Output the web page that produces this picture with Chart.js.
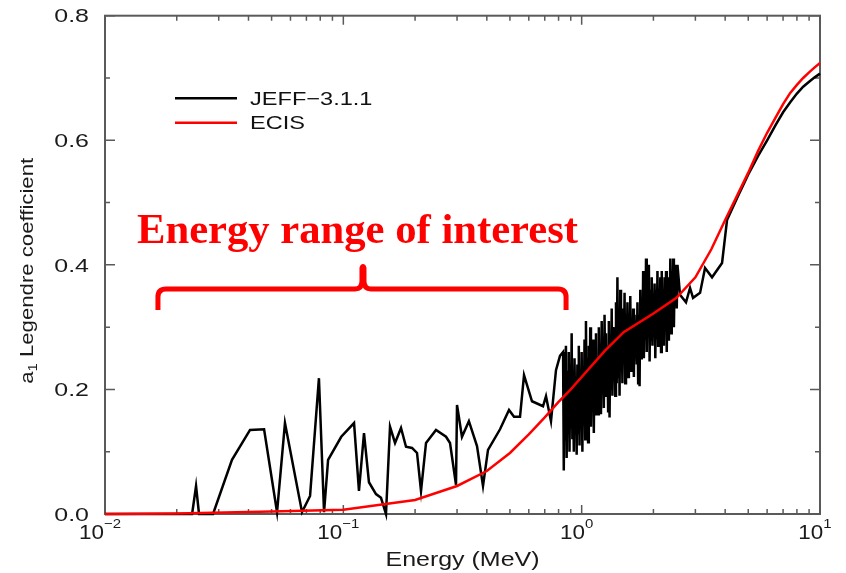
<!DOCTYPE html>
<html><head><meta charset="utf-8">
<style>html,body{margin:0;padding:0;background:#fff;}canvas{display:block;}</style>
<script src="https://cdn.jsdelivr.net/npm/chart.js@4.4.1/dist/chart.umd.min.js"></script>
</head><body>
<canvas id="c" width="846" height="573"></canvas>
<script>
// ---------- data ----------
const jeffEnergy = [
 0.01, 0.0232, 0.0241, 0.0248, 0.0284, 0.0341, 0.0406, 0.0465, 0.0527, 0.0569,
 0.0671, 0.0725, 0.0790, 0.0830, 0.0863, 0.0980, 0.1109, 0.1163, 0.1221, 0.1281,
 0.1371, 0.1439, 0.1510, 0.1570, 0.1648, 0.1746, 0.1832, 0.1942, 0.2038, 0.2118,
 0.2223, 0.2448, 0.2697, 0.2803, 0.2970, 0.2999, 0.3146, 0.3364, 0.3638, 0.3855,
 0.4046, 0.4544, 0.4956, 0.5202, 0.5512, 0.5730, 0.6188, 0.6883, 0.7085, 0.7435,
 0.7803, 0.8110,
 0.8356, 0.8414, 0.8472, 0.8531, 0.8590, 0.8650, 0.8710, 0.8770, 0.8831, 0.8892,
 0.8954, 0.9016, 0.9078, 0.9141, 0.9204, 0.9268, 0.9333, 0.9397, 0.9462, 0.9528,
 0.9594, 0.9660, 0.9727, 0.9795, 0.9863, 0.9931, 1.0000, 1.0069, 1.0139, 1.0209,
 1.0280, 1.0351, 1.0423, 1.0495, 1.0568, 1.0641, 1.0715, 1.0789, 1.0864, 1.0939,
 1.1015, 1.1091, 1.1169, 1.1246, 1.1324, 1.1402, 1.1482, 1.1561, 1.1641, 1.1722,
 1.1803, 1.1885, 1.1967, 1.2050, 1.2134, 1.2218, 1.2303, 1.2388, 1.2474, 1.2560,
 1.2647, 1.2735, 1.2823, 1.2912, 1.3002, 1.3092, 1.3183, 1.3274, 1.3366, 1.3459,
 1.3552, 1.3646, 1.3740, 1.3836, 1.3932, 1.4028, 1.4125, 1.4223, 1.4322, 1.4421,
 1.4521, 1.4622, 1.4723, 1.4825, 1.4928, 1.5031, 1.5136, 1.5241, 1.5346, 1.5453,
 1.5560, 1.5668, 1.5776, 1.5885, 1.5996, 1.6107, 1.6218, 1.6331, 1.6444, 1.6558,
 1.6672, 1.6788, 1.6904, 1.7021, 1.7140, 1.7258, 1.7378, 1.7498, 1.7620, 1.7742,
 1.7865, 1.7989, 1.8113, 1.8239, 1.8365, 1.8492, 1.8621, 1.8750, 1.8880, 1.9011,
 1.9143, 1.9275, 1.9409, 1.9543, 1.9679, 1.9815, 1.9953, 2.0091, 2.0230, 2.0370,
 2.0512, 2.0654, 2.0797, 2.0941, 2.1086, 2.1232, 2.1380, 2.1528, 2.1677, 2.1827,
 2.1979, 2.2131, 2.2284, 2.2438, 2.2594, 2.2750, 2.2909, 2.3067, 2.3227, 2.3388,
 2.3550, 2.3713, 2.3878, 2.4043, 2.4210, 2.4378, 2.4547, 2.4717, 2.4889, 2.5061,
 2.5235,
 2.586, 2.740, 2.849, 2.933, 3.139, 3.293, 3.524, 3.882, 4.073, 4.5,
 5.0, 5.5, 6.0, 6.5, 7.0, 7.5, 8.0, 8.5, 9.0, 9.5, 10.0
];
const jeffA1 = [
 0, 0, 0.045, 0, 0, 0.087, 0.135, 0.136, 0.003, 0.146,
 0.003, 0.029, 0.218, 0.003, 0.087, 0.124, 0.146, 0.037, 0.130, 0.051,
 0.032, 0.026, 0.0, 0.140, 0.114, 0.138, 0.108, 0.106, 0.098, 0.037,
 0.114, 0.135, 0.124, 0.114, 0.047, 0.175, 0.124, 0.149, 0.109, 0.045,
 0.103, 0.136, 0.167, 0.156, 0.156, 0.223, 0.181, 0.173, 0.189, 0.149,
 0.231, 0.254,
 0.26, 0.07, 0.25, 0.12, 0.27, 0.09, 0.23, 0.13, 0.26, 0.10,
 0.22, 0.14, 0.29, 0.12, 0.21, 0.10, 0.25, 0.15, 0.20, 0.095,
 0.24, 0.13, 0.27, 0.11, 0.22, 0.14, 0.26, 0.10, 0.23, 0.15,
 0.28, 0.12, 0.31, 0.16, 0.25, 0.115, 0.27, 0.17, 0.30, 0.14,
 0.24, 0.18, 0.28, 0.13, 0.26, 0.16, 0.29, 0.19, 0.25, 0.16,
 0.30, 0.18, 0.27, 0.16, 0.31, 0.20, 0.26, 0.17, 0.32, 0.19,
 0.29, 0.21, 0.27, 0.165, 0.31, 0.155, 0.28, 0.20, 0.33, 0.19,
 0.30, 0.22, 0.28, 0.19, 0.34, 0.21, 0.38, 0.22, 0.31, 0.19,
 0.36, 0.23, 0.30, 0.21, 0.33, 0.25, 0.355, 0.21, 0.30, 0.24,
 0.34, 0.22, 0.32, 0.26, 0.35, 0.23, 0.31, 0.25, 0.33, 0.22,
 0.32, 0.26, 0.30, 0.24, 0.34, 0.21, 0.32, 0.205, 0.36, 0.25,
 0.33, 0.27, 0.39, 0.25, 0.35, 0.28, 0.41, 0.26, 0.37, 0.29,
 0.40, 0.245, 0.36, 0.28, 0.38, 0.27, 0.35, 0.30, 0.37, 0.25,
 0.36, 0.28, 0.39, 0.27, 0.35, 0.30, 0.38, 0.26, 0.39, 0.29,
 0.36, 0.27, 0.38, 0.30, 0.39, 0.26, 0.37, 0.28, 0.38, 0.31,
 0.41, 0.29, 0.39, 0.33, 0.41, 0.30, 0.38, 0.34, 0.40, 0.33,
 0.40,
 0.352, 0.340, 0.363, 0.347, 0.355, 0.395, 0.380, 0.403, 0.472, 0.508,
 0.545, 0.575, 0.600, 0.624, 0.645, 0.661, 0.675, 0.686, 0.694, 0.701, 0.707
];
const ecisEnergy = [
 0.01, 0.02, 0.05, 0.1, 0.2, 0.3, 0.4, 0.5, 0.6, 0.7, 0.8, 0.9, 1.0, 1.25, 1.5,
 2.0, 2.5, 3.0, 3.5, 4.0, 4.5, 5.0, 5.5, 6.0, 6.5, 7.0, 7.5, 8.0, 8.5, 9.0, 9.5, 10.0
];
const ecisA1 = [
 0, 0.001, 0.004, 0.007, 0.0225, 0.045, 0.069, 0.098, 0.128, 0.155, 0.180, 0.200, 0.220, 0.262, 0.292,
 0.322, 0.347, 0.380, 0.425, 0.472, 0.512, 0.548, 0.583, 0.612, 0.636, 0.658, 0.676, 0.689, 0.700, 0.709, 0.717, 0.724
];
const seriesNames = ['JEFF\u22123.1.1', 'ECIS'];
const xMajorTicks = [0.01, 0.1, 1, 10];
const xTickBase = '10';
const xTickExponents = ['\u22122', '\u22121', '0', '1'];
const yMajorTicks = [0, 0.2, 0.4, 0.6, 0.8];
const yTickLabels = ['0.0', '0.2', '0.4', '0.6', '0.8'];
const yMinorTicks = [0.1, 0.3, 0.5, 0.7];
const xTitle = 'Energy (MeV)';
const yTitleMain = 'a';
const yTitleSub = '1';
const yTitleRest = ' Legendre coefficient';
const annotationText = 'Energy range of interest';

// annotation bracket placement, in data units
const bracket = { left: 0.01668, center: 0.1209, right: 0.860, foot: 0.3274, bar: 0.3612, peak: 0.3997 };
const annotationPos = { x: 0.01362, y: 0.435 };

// ---------- drawing helpers ----------
const SANS = '"Liberation Sans", Arial, Helvetica, sans-serif';
function drawText(ctx, s, x, y, size, o) {
  o = o || {};
  ctx.save();
  ctx.font = (o.weight || '') + ' ' + size + 'px ' + (o.family || SANS);
  ctx.fillStyle = o.color || '#111';
  ctx.textAlign = o.align || 'left';
  ctx.textBaseline = 'alphabetic';
  ctx.translate(x, y);
  if (o.rot) ctx.rotate(o.rot);
  ctx.scale(o.sx || 1, 1);
  ctx.fillText(s, 0, 0);
  ctx.restore();
}
function textW(ctx, s, size, family, weight) {
  ctx.save();
  ctx.font = (weight || '') + ' ' + size + 'px ' + (family || SANS);
  const w = ctx.measureText(s).width;
  ctx.restore();
  return w;
}

const decor = {
  id: 'decor',
  beforeDatasetsDraw(chart) {
    const ctx = chart.ctx, a = chart.chartArea;
    const xs = chart.scales.x, ys = chart.scales.y;
    ctx.save();
    ctx.strokeStyle = '#5a5a5a';
    ctx.lineWidth = 2;
    ctx.strokeRect(a.left, a.top, a.right - a.left, a.bottom - a.top);
    ctx.lineWidth = 1.5;
    ctx.beginPath();
    xMajorTicks.forEach((v, i) => {
      const px = xs.getPixelForValue(v);
      ctx.moveTo(px, a.bottom); ctx.lineTo(px, a.bottom - 9);
      ctx.moveTo(px, a.top); ctx.lineTo(px, a.top + 9);
      if (i < xMajorTicks.length - 1) {
        for (let m = 2; m <= 9; m++) {
          const q = xs.getPixelForValue(v * m);
          ctx.moveTo(q, a.bottom); ctx.lineTo(q, a.bottom - 5);
          ctx.moveTo(q, a.top); ctx.lineTo(q, a.top + 5);
        }
      }
    });
    yMajorTicks.forEach(v => {
      const py = ys.getPixelForValue(v);
      ctx.moveTo(a.left, py); ctx.lineTo(a.left + 10, py);
      ctx.moveTo(a.right, py); ctx.lineTo(a.right - 10, py);
    });
    yMinorTicks.forEach(v => {
      const py = ys.getPixelForValue(v);
      ctx.moveTo(a.left, py); ctx.lineTo(a.left + 5, py);
      ctx.moveTo(a.right, py); ctx.lineTo(a.right - 5, py);
    });
    ctx.stroke();
    ctx.restore();
  },
  afterDatasetsDraw(chart) {
    const ctx = chart.ctx, a = chart.chartArea;
    const xs = chart.scales.x, ys = chart.scales.y;
    // y tick labels
    yMajorTicks.forEach((v, i) => {
      const py = ys.getPixelForValue(v);
      drawText(ctx, yTickLabels[i], a.left - 16, py + 6.7, 18.5, { align: 'right', sx: 1.35, color: '#1a1a1a' });
    });
    // x tick labels 10^n
    const bs = 19.5, ss = 13, sx = 1.15;
    xMajorTicks.forEach((v, i) => {
      const px = xs.getPixelForValue(v);
      const wb = textW(ctx, xTickBase, bs) * sx;
      const we = textW(ctx, xTickExponents[i], ss) * sx;
      const start = px - 5 - (wb + we) / 2;
      drawText(ctx, xTickBase, start, a.bottom + 25, bs, { sx: sx, color: '#1a1a1a' });
      drawText(ctx, xTickExponents[i], start + wb, a.bottom + 14, ss, { sx: sx, color: '#1a1a1a' });
    });
    // x title
    {
      const size = 19.5;
      const w = textW(ctx, xTitle, size);
      drawText(ctx, xTitle, (a.left + a.right) / 2, a.bottom + 52, size, { align: 'center', sx: 154 / w, color: '#1a1a1a' });
    }
    // y title (rotated, with subscript)
    {
      const size = 18.5, subSize = 12.5;
      const wa = textW(ctx, yTitleMain, size), ws = textW(ctx, yTitleSub, subSize), wr = textW(ctx, yTitleRest, size);
      const k = 226 / (wa + ws + wr);
      const cx = 33, cy = (a.top + a.bottom) / 2 + 6;
      ctx.save();
      ctx.translate(cx, cy);
      ctx.rotate(-Math.PI / 2);
      ctx.scale(k, 1);
      ctx.fillStyle = '#1a1a1a';
      ctx.textBaseline = 'alphabetic';
      let x0 = -(wa + ws + wr) / 2;
      ctx.font = size + 'px ' + SANS; ctx.fillText(yTitleMain, x0, 0);
      ctx.font = subSize + 'px ' + SANS; ctx.fillText(yTitleSub, x0 + wa, 4);
      ctx.font = size + 'px ' + SANS; ctx.fillText(yTitleRest, x0 + wa + ws, 0);
      ctx.restore();
    }
    // legend
    {
      const colors = chart.data.datasets.map(d => d.borderColor);
      const x1 = a.left + 70, x2 = a.left + 132, tx = a.left + 145;
      const ly = [a.top + 82.6, a.top + 107];
      const ecisW = textW(ctx, seriesNames[1], 18.5);
      const k = 55 / ecisW;
      seriesNames.forEach((n, i) => {
        ctx.save();
        ctx.strokeStyle = colors[i];
        ctx.lineWidth = 2.5;
        ctx.beginPath(); ctx.moveTo(x1, ly[i]); ctx.lineTo(x2, ly[i]); ctx.stroke();
        ctx.restore();
        drawText(ctx, n, tx, ly[i] + 6.7, 18.5, { sx: k, color: '#111' });
      });
    }
    // annotation text
    {
      const fam = '"Liberation Serif", "Times New Roman", serif';
      const size = 42;
      const w = textW(ctx, annotationText, size, fam, 'bold');
      drawText(ctx, annotationText, xs.getPixelForValue(annotationPos.x), ys.getPixelForValue(annotationPos.y), size,
        { family: fam, weight: 'bold', color: '#ff0000', sx: 441 / w });
    }
    // bracket
    {
      const L = xs.getPixelForValue(bracket.left), C = xs.getPixelForValue(bracket.center), R = xs.getPixelForValue(bracket.right);
      const F = ys.getPixelForValue(bracket.foot), B = ys.getPixelForValue(bracket.bar), P = ys.getPixelForValue(bracket.peak);
      const r = 8;
      ctx.save();
      ctx.strokeStyle = '#ff0000';
      ctx.lineWidth = 5;
      ctx.lineJoin = 'round';
      ctx.beginPath();
      ctx.moveTo(L, F);
      ctx.lineTo(L, B + r);
      ctx.quadraticCurveTo(L, B, L + r, B);
      ctx.lineTo(C - 8, B);
      ctx.quadraticCurveTo(C - 1, B, C - 1, B - 8);
      ctx.lineTo(C - 1, P + 3);
      ctx.quadraticCurveTo(C, P, C + 1, P + 3);
      ctx.lineTo(C + 1, B - 8);
      ctx.quadraticCurveTo(C + 1, B, C + 8, B);
      ctx.lineTo(R - r, B);
      ctx.quadraticCurveTo(R, B, R, B + r);
      ctx.lineTo(R, F);
      ctx.stroke();
      ctx.restore();
    }
  }
};

const jeffPoints = jeffEnergy.map((e, i) => ({ x: e, y: jeffA1[i] }));
const ecisPoints = ecisEnergy.map((e, i) => ({ x: e, y: ecisA1[i] }));

new Chart(document.getElementById('c'), {
  type: 'line',
  data: {
    datasets: [
      { label: seriesNames[0], data: jeffPoints, borderColor: '#000000', borderWidth: 2.5, pointRadius: 0,
        tension: 0, fill: false, order: 1, clip: false, borderJoinStyle: 'miter' },
      { label: seriesNames[1], data: ecisPoints, borderColor: '#ff0000', borderWidth: 2.5, pointRadius: 0,
        tension: 0, fill: false, order: 0, clip: false }
    ]
  },
  options: {
    responsive: false,
    animation: false,
    devicePixelRatio: 1,
    events: [],
    layout: { padding: { left: 105, right: 26, top: 15.7, bottom: 59 } },
    scales: {
      x: { type: 'logarithmic', min: 0.01, max: 10, display: false },
      y: { type: 'linear', min: 0, max: 0.8, display: false }
    },
    plugins: { legend: { display: false }, tooltip: { enabled: false } }
  },
  plugins: [decor]
});
</script>
</body></html>
